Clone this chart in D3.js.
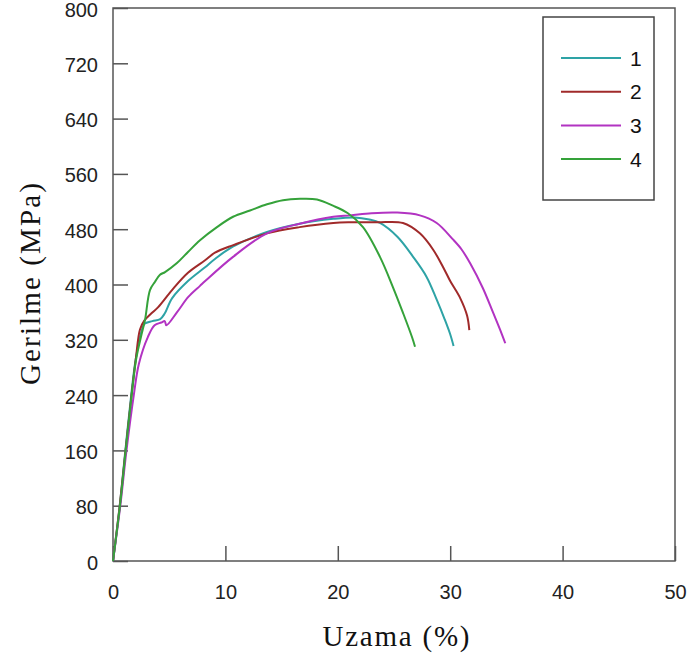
<!DOCTYPE html>
<html>
<head>
<meta charset="utf-8">
<script src="https://cdn.jsdelivr.net/npm/d3@7/dist/d3.min.js"></script>
<style>
  body { margin: 0; background: #fff; }
  svg { display: block; }
</style>
</head>
<body>
<svg width="693" height="661"></svg>
<script>
// tick labels
var xTicks = [0, 10, 20, 30, 40, 50];
var yTicks = [0, 80, 160, 240, 320, 400, 480, 560, 640, 720, 800];

// series names and colours
var seriesNames = ['1', '2', '3', '4'];
var seriesColors = ['#2ea3a6', '#a02a2a', '#b233c2', '#35a23a'];

// series 1 (teal)
var strain1 = [0, 0.6, 1.1, 1.62, 2.0, 2.5, 2.8, 3.5, 4.2, 4.6, 5.25, 6.67, 8.19, 9.07, 10.7, 13.7, 16.6, 19.6, 21.5, 22.8, 23.75, 25.3, 26.7, 27.9, 28.8, 29.5, 30.0, 30.3];
var stress1 = [0, 80, 160, 240, 290, 330, 343, 347, 350, 358, 380, 405, 425, 437, 455, 476, 488, 495, 497, 494, 489, 469, 440, 411, 378, 350, 328, 311];

// series 2 (dark red)
var strain2 = [0, 0.6, 1.12, 1.65, 2.05, 2.4, 2.8, 3.4, 4.0, 5.25, 6.67, 8.19, 9.07, 10.7, 13.7, 16.6, 19.6, 21.1, 23.5, 25.8, 27.3, 28.5, 29.5, 30.0, 30.9, 31.5, 31.7];
var stress2 = [0, 80, 160, 240, 295, 335, 348, 358, 367, 392, 417, 435, 446, 457, 474, 483, 489, 490, 490, 489, 474, 450, 421, 405, 380, 355, 334];

// series 3 (purple)
var strain3 = [0, 0.65, 1.2, 1.85, 2.3, 3.1, 3.7, 4.3, 4.6, 4.75, 5.7, 6.7, 7.74, 8.2, 10.68, 13.7, 16.6, 19.6, 21.1, 23.0, 25.3, 27.3, 28.8, 30.2, 31.0, 31.8, 32.9, 33.8, 34.6, 34.9];
var stress3 = [0, 80, 160, 240, 285, 324, 341, 345, 347, 341, 360, 382, 398, 405, 440, 474, 488, 498, 500, 503, 504, 500, 489, 466, 451, 430, 395, 360, 328, 315];

// series 4 (green)
var strain4 = [0, 0.62, 1.13, 1.66, 2.05, 2.5, 2.85, 3.29, 3.74, 4.18, 4.63, 5.69, 6.67, 7.74, 9.25, 10.68, 12.19, 13.7, 15.12, 16.64, 18.15, 19.57, 20.9, 22.24, 23.75, 24.91, 25.8, 26.6, 26.87];
var stress4 = [0, 80, 160, 240, 291, 325, 349, 392, 404, 414, 418, 431, 447, 464, 483, 498, 507, 516, 522, 524, 523, 514, 503, 483, 440, 396, 359, 324, 310];

var strains = [strain1, strain2, strain3, strain4];
var stresses = [stress1, stress2, stress3, stress4];

var margin = { left: 113, top: 8, right: 18, bottom: 100 };
var width = 693 - margin.left - margin.right;
var height = 661 - margin.top - margin.bottom;

var svg = d3.select('svg');
var g = svg.append('g')
    .attr('transform', 'translate(' + margin.left + ',' + margin.top + ')');

var x = d3.scaleLinear().domain([0, 50]).range([0, width]);
var y = d3.scaleLinear().domain([0, 800]).range([height, 0]);

var axisColor = '#555';
var labelFont = '"Liberation Sans", Arial, sans-serif';

// y axis (ticks point inward)
var yAxis = g.append('g')
    .call(d3.axisLeft(y).tickValues(yTicks).tickSizeInner(-15).tickSizeOuter(0).tickPadding(15));
yAxis.select('.domain').remove();
yAxis.selectAll('line').attr('stroke', axisColor).attr('stroke-width', 1.5);
yAxis.selectAll('text')
    .attr('dy', '0.4em')
    .style('font-family', labelFont)
    .style('font-size', '20px')
    .attr('fill', '#222');

// x axis
var xAxis = g.append('g')
    .attr('transform', 'translate(0,' + height + ')')
    .call(d3.axisBottom(x).tickValues(xTicks).tickSizeInner(-15).tickSizeOuter(0).tickPadding(24));
xAxis.select('.domain').remove();
xAxis.selectAll('line').attr('stroke', axisColor).attr('stroke-width', 1.5);
xAxis.selectAll('text')
    .style('font-family', labelFont)
    .style('font-size', '20px')
    .attr('fill', '#222');

// frame
g.append('rect')
    .attr('x', 0).attr('y', 0)
    .attr('width', width).attr('height', height)
    .attr('fill', 'none')
    .attr('stroke', axisColor)
    .attr('stroke-width', 1.5);

// curves
var line = d3.line()
    .x(d => x(d[0]))
    .y(d => y(d[1]))
    .curve(d3.curveCatmullRom.alpha(0.5));

strains.forEach(function(s, i) {
    var pts = s.map((v, j) => [v, stresses[i][j]]);
    g.append('path')
        .datum(pts)
        .attr('d', line)
        .attr('fill', 'none')
        .attr('stroke', seriesColors[i])
        .attr('stroke-width', 2);
});

// legend
var legend = svg.append('g').attr('transform', 'translate(543,17)');
legend.append('rect')
    .attr('width', 111).attr('height', 183)
    .attr('fill', '#fff')
    .attr('stroke', '#444')
    .attr('stroke-width', 1.5);
seriesNames.forEach(function(name, i) {
    var ly = 41 + i * 33.7;
    legend.append('line')
        .attr('x1', 18).attr('x2', 78)
        .attr('y1', ly).attr('y2', ly)
        .attr('stroke', seriesColors[i])
        .attr('stroke-width', 2);
    legend.append('text')
        .attr('x', 87).attr('y', ly)
        .attr('dy', '0.36em')
        .style('font-family', labelFont)
        .style('font-size', '21px')
        .attr('fill', '#111')
        .text(name);
});

// axis titles
svg.append('text')
    .attr('x', 396).attr('y', 646)
    .attr('text-anchor', 'middle')
    .attr('textLength', 147)
    .attr('lengthAdjust', 'spacing')
    .style('font-family', '"Liberation Serif", "Times New Roman", serif')
    .style('font-size', '29px')
    .attr('fill', '#111')
    .text('Uzama (%)');

svg.append('text')
    .attr('transform', 'translate(40,284) rotate(-90)')
    .attr('text-anchor', 'middle')
    .attr('textLength', 202)
    .attr('lengthAdjust', 'spacing')
    .style('font-family', '"Liberation Serif", "Times New Roman", serif')
    .style('font-size', '29px')
    .attr('fill', '#111')
    .text('Gerilme (MPa)');
</script>
</body>
</html>
